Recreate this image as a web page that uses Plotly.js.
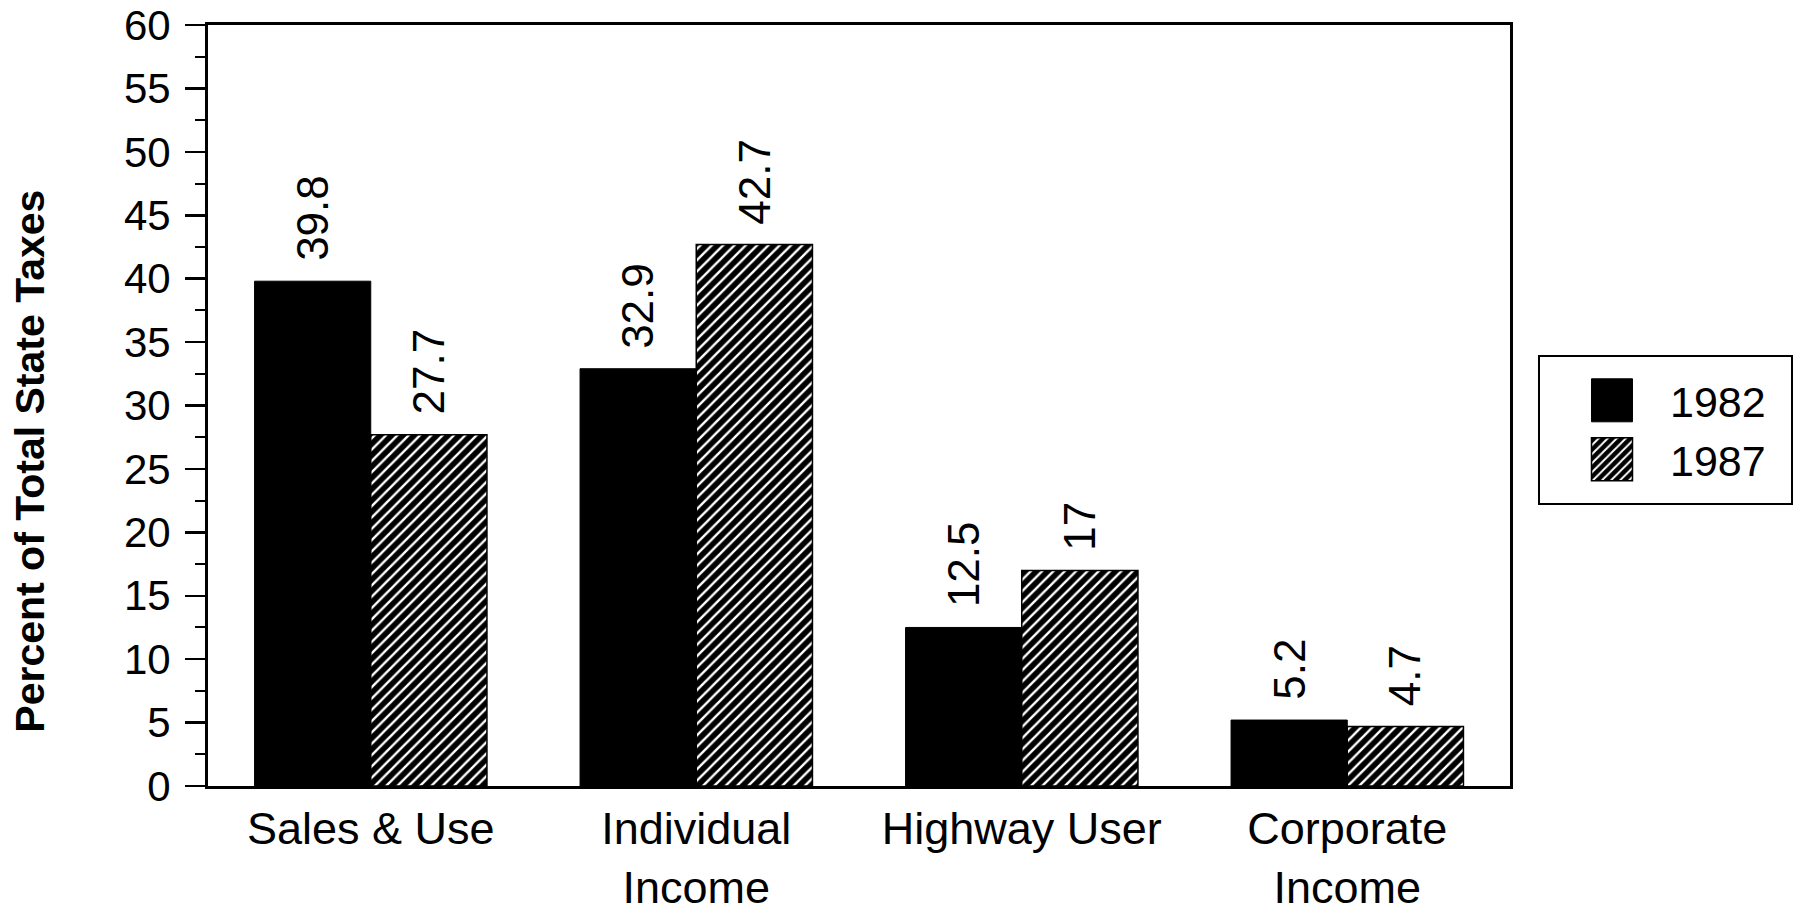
<!DOCTYPE html>
<html>
<head>
<meta charset="utf-8">
<script src="https://cdn.plot.ly/plotly-3.0.1.min.js"></script>
<style>
  html, body { margin: 0; padding: 0; background: #fff; }
  #chart { width: 1800px; height: 913px; }
</style>
</head>
<body>
<div id="chart"></div>
<script>
// ---- data ----
const categories = ['Sales & Use', 'Individual<br>Income', 'Highway User', 'Corporate<br>Income'];
const seriesNames = ['1982', '1987'];
const values1982 = [39.8, 32.9, 12.5, 5.2];
const values1987 = [27.7, 42.7, 17, 4.7];
const labels1982 = ['39.8', '32.9', '12.5', '5.2'];
const labels1987 = ['27.7', '42.7', '17', '4.7'];
const yTickValues = [0, 5, 10, 15, 20, 25, 30, 35, 40, 45, 50, 55, 60];
const yTitle = 'Percent of Total State Taxes';

const FONT = 'Liberation Sans, Arial, Helvetica, sans-serif';
const BARGAP = 0.286;
const halfBar = (1 - BARGAP) / 4;

const trace1982 = {
  type: 'bar', name: seriesNames[0], x: categories, y: values1982,
  marker: { color: '#000', line: { color: '#000', width: 1 } },
  hoverinfo: 'x+y'
};
const trace1987 = {
  type: 'bar', name: seriesNames[1], x: categories, y: values1987,
  marker: {
    color: '#000', line: { color: '#000', width: 1.5 },
    pattern: { shape: '/', fgcolor: '#fff', bgcolor: '#000', size: 8, solidity: 0.3, fillmode: 'replace' }
  },
  hoverinfo: 'x+y'
};

const annotations = [];
categories.forEach((c, i) => {
  [[values1982, labels1982, -halfBar], [values1987, labels1987, halfBar]].forEach(([vals, labs, off]) => {
    annotations.push({
      xref: 'x', yref: 'y', x: i + off, y: vals[i], text: labs[i],
      showarrow: false, textangle: -90, yanchor: 'bottom', xanchor: 'center', yshift: 18,
      font: { family: FONT, size: 44, color: '#000' }
    });
  });
});
annotations.push({
  xref: 'paper', yref: 'paper', x: -0.137, y: 0.427, text: '<b>' + yTitle + '</b>',
  showarrow: false, textangle: -90, xanchor: 'center', yanchor: 'middle',
  font: { family: FONT, size: 41, color: '#000' }
});

const layout = {
  width: 1800, height: 913,
  margin: { l: 208, r: 290, t: 25, b: 127, pad: 0 },
  paper_bgcolor: '#fff', plot_bgcolor: '#fff',
  font: { family: FONT, color: '#000' },
  barmode: 'group', bargap: BARGAP, bargroupgap: 0,
  showlegend: true,
  legend: {
    x: 1.0215, xanchor: 'left', y: 0.468, yanchor: 'middle',
    bordercolor: '#000', borderwidth: 2, bgcolor: '#fff',
    font: { family: FONT, size: 43, color: '#000' },
    itemwidth: 120, itemclick: false, itemdoubleclick: false
  },
  xaxis: {
    type: 'category', showline: true, linecolor: '#000', linewidth: 3, mirror: true,
    ticks: '', showgrid: false, zeroline: false,
    tickfont: { family: FONT, size: 45, color: '#000' },
    ticklabelstandoff: 1, ticklabeloverflow: 'allow'
  },
  yaxis: {
    range: [0, 60], tickvals: yTickValues, ticktext: yTickValues.map(String),
    showline: true, linecolor: '#000', linewidth: 3, mirror: true,
    ticks: 'outside', ticklen: 20, tickwidth: 2.5, tickcolor: '#000',
    minor: { dtick: 2.5, ticks: 'outside', ticklen: 10, tickwidth: 2, tickcolor: '#000', showgrid: false },
    showgrid: false, zeroline: false,
    tickfont: { family: FONT, size: 42, color: '#000' },
    ticklabelstandoff: 6, ticklabeloverflow: 'allow'
  },
  annotations: annotations
};

Plotly.newPlot('chart', [trace1982, trace1987], layout, { displayModeBar: false, staticPlot: true }).then(gd => {
  gd.querySelectorAll('.legend .legendpoints path').forEach(p => {
    p.setAttribute('d', 'M27.5,21.5H-13.5V-21.5H27.5Z');
  });
  const bg = gd.querySelector('.legend rect.bg');
  if (bg) {
    const w = parseFloat(bg.getAttribute('width'));
    const h = parseFloat(bg.getAttribute('height'));
    const y = parseFloat(bg.getAttribute('y') || 0);
    bg.setAttribute('width', w + 20);
    bg.setAttribute('height', h + 18);
    bg.setAttribute('y', y - 9);
  }
});
</script>
</body>
</html>
